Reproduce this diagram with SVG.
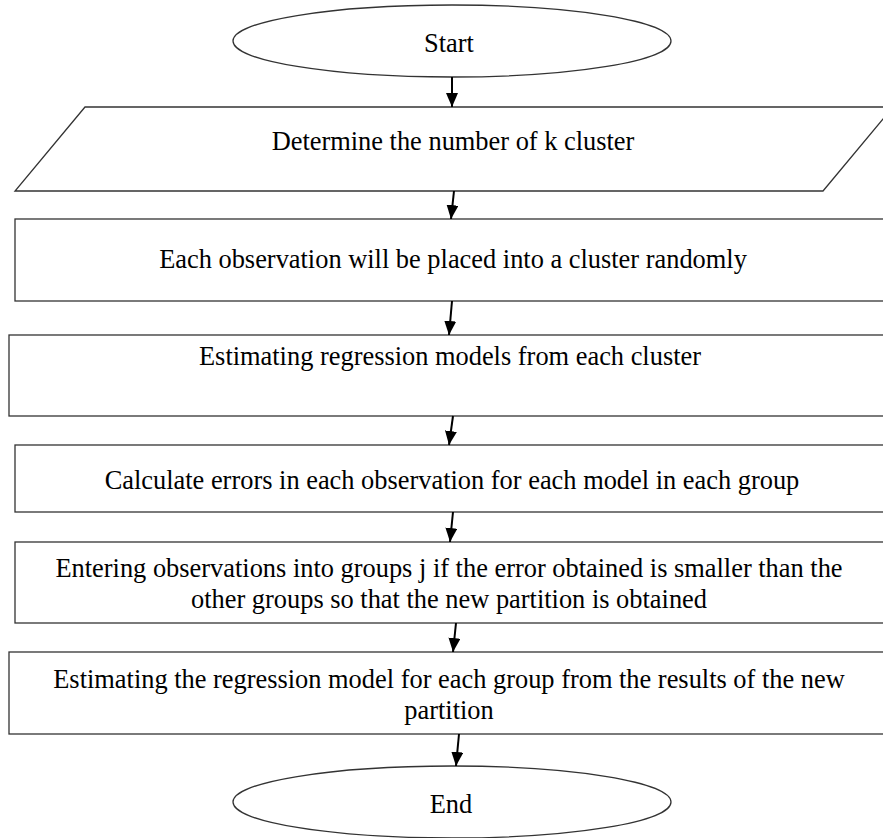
<svg xmlns="http://www.w3.org/2000/svg" width="883" height="838" viewBox="0 0 883 838">
<defs>
<style>
.shape{fill:#fff;stroke:#333;stroke-width:1.3}
.lbl{font-family:"Liberation Serif","Times New Roman",serif;font-size:26.4px;fill:#000;text-anchor:middle}
.conn{stroke:#000;stroke-width:2;fill:none}
</style>
<marker id="ah" viewBox="0 0 14 12" refX="14" refY="6" markerWidth="14" markerHeight="12" markerUnits="userSpaceOnUse" orient="auto">
<path d="M0,0 L14,6 L0,12 z" fill="#000"/>
</marker>
</defs>
<rect width="883" height="838" fill="#fff"/>
<g id="start">
<ellipse class="shape" cx="452" cy="41" rx="219" ry="36"/>
<text class="lbl" x="449" y="52">Start</text>
</g>
<g id="determine">
<polygon class="shape" points="85,107 893,107 823,191 15,191"/>
<text class="lbl" x="453" y="150">Determine the number of k cluster</text>
</g>
<g id="place">
<rect class="shape" x="15" y="219" width="880" height="82"/>
<text class="lbl" x="453" y="268">Each observation will be placed into a cluster randomly</text>
</g>
<g id="estimate">
<rect class="shape" x="9" y="335" width="886" height="81"/>
<text class="lbl" x="450" y="365">Estimating regression models from each cluster</text>
</g>
<g id="calculate">
<rect class="shape" x="15" y="445" width="880" height="67"/>
<text class="lbl" x="452" y="489">Calculate errors in each observation for each model in each group</text>
</g>
<g id="enter">
<rect class="shape" x="15" y="542" width="880" height="81"/>
<text class="lbl" x="449" y="577">Entering observations into groups j if the error obtained is smaller than the</text>
<text class="lbl" x="449" y="608">other groups so that the new partition is obtained</text>
</g>
<g id="reestimate">
<rect class="shape" x="9" y="652" width="886" height="82"/>
<text class="lbl" x="449" y="688">Estimating the regression model for each group from the results of the new</text>
<text class="lbl" x="449" y="719">partition</text>
</g>
<g id="end">
<ellipse class="shape" cx="452" cy="802" rx="219" ry="36"/>
<text class="lbl" x="451" y="813">End</text>
</g>
<g id="connectors">
<line class="conn" x1="452" y1="77" x2="452" y2="107" marker-end="url(#ah)"/>
<line class="conn" x1="454" y1="191" x2="451" y2="219" marker-end="url(#ah)"/>
<line class="conn" x1="452" y1="301" x2="449" y2="335" marker-end="url(#ah)"/>
<line class="conn" x1="453" y1="416" x2="449" y2="445" marker-end="url(#ah)"/>
<line class="conn" x1="453" y1="512" x2="450" y2="542" marker-end="url(#ah)"/>
<line class="conn" x1="456" y1="623" x2="453" y2="652" marker-end="url(#ah)"/>
<line class="conn" x1="459" y1="734" x2="456" y2="766" marker-end="url(#ah)"/>
</g>
</svg>
